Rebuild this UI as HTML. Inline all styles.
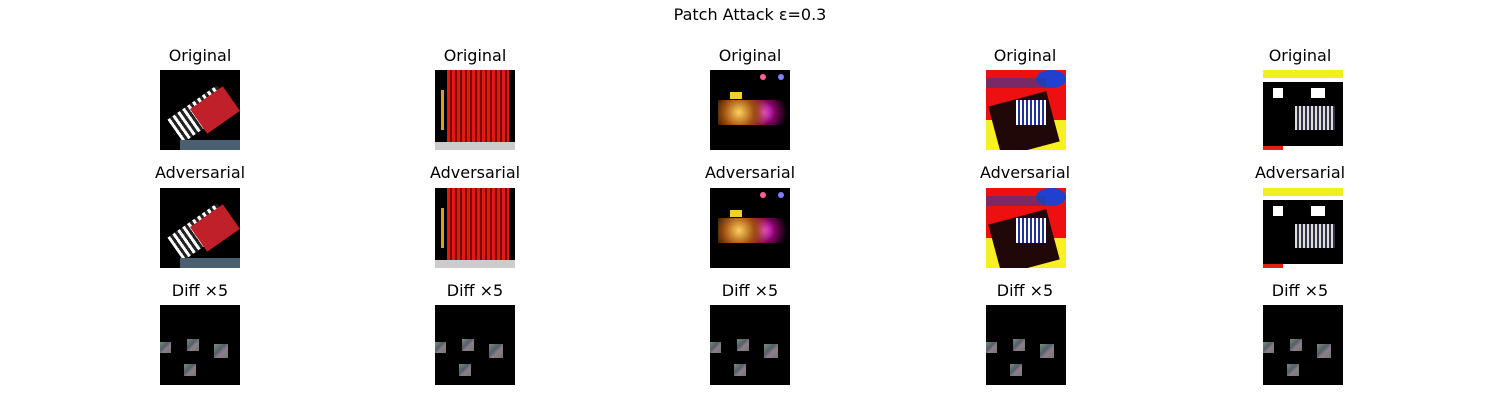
<!DOCTYPE html>
<html><head><meta charset="utf-8"><style>
body{margin:0;width:1500px;height:400px;background:#fff;position:relative;overflow:hidden;font-family:"DejaVu Sans","Liberation Sans",sans-serif;}
.t{position:absolute;font-size:16px;color:#000;text-align:center;width:200px;line-height:20px;}
.im{position:absolute;width:80px;height:80px;overflow:hidden;background:#000;}
.p{position:absolute;background:linear-gradient(135deg,#8a9a88,#5a6b74 40%,#a08a9a 60%,#7a8a7a);opacity:.9}
</style></head><body>
<div class="t" style="left:650px;top:5px;font-size:16px;">Patch Attack ε=0.3</div>

<!-- titles -->
<div class="t" style="left:100px;top:46px">Original</div>
<div class="t" style="left:375px;top:46px">Original</div>
<div class="t" style="left:650px;top:46px">Original</div>
<div class="t" style="left:925px;top:46px">Original</div>
<div class="t" style="left:1200px;top:46px">Original</div>
<div class="t" style="left:100px;top:163px">Adversarial</div>
<div class="t" style="left:375px;top:163px">Adversarial</div>
<div class="t" style="left:650px;top:163px">Adversarial</div>
<div class="t" style="left:925px;top:163px">Adversarial</div>
<div class="t" style="left:1200px;top:163px">Adversarial</div>
<div class="t" style="left:100px;top:281px">Diff ×5</div>
<div class="t" style="left:375px;top:281px">Diff ×5</div>
<div class="t" style="left:650px;top:281px">Diff ×5</div>
<div class="t" style="left:925px;top:281px">Diff ×5</div>
<div class="t" style="left:1200px;top:281px">Diff ×5</div>

<!-- image rows 1 & 2 -->
<div id="imgs"></div>
<script>
var xs=[160,435,710,986,1263], ys=[70,188];
var html='';
var art=[
 '<div style="position:absolute;left:10px;top:30px;width:60px;height:28px;background:repeating-linear-gradient(90deg,#fff 0 3px,#222 3px 6px);transform:rotate(-35deg)"></div><div style="position:absolute;left:35px;top:25px;width:40px;height:30px;background:#c0202a;transform:rotate(-35deg)"></div><div style="position:absolute;left:20px;top:70px;width:60px;height:10px;background:#4a6070"></div>',
 '<div style="position:absolute;left:12px;top:0;width:62px;height:80px;background:repeating-linear-gradient(90deg,#e01a10 0 3px,#7a0800 3px 5px)"></div><div style="position:absolute;left:0;top:72px;width:80px;height:8px;background:#ccc"></div><div style="position:absolute;left:6px;top:20px;width:3px;height:40px;background:#d4a020"></div>',
 '<div style="position:absolute;left:8px;top:30px;width:70px;height:25px;background:radial-gradient(circle at 30% 50%,#ffd060,#a05010 30%,transparent 60%),radial-gradient(circle at 65% 50%,#ff50ff,#800060 25%,transparent 50%)"></div><div style="position:absolute;left:50px;top:4px;width:6px;height:6px;border-radius:50%;background:#ff60a0"></div><div style="position:absolute;left:68px;top:4px;width:6px;height:6px;border-radius:50%;background:#8080ff"></div><div style="position:absolute;left:20px;top:22px;width:12px;height:7px;background:#f0d020"></div>',
 '<div style="position:absolute;inset:0;background:#ee1010"></div><div style="position:absolute;left:0;top:50px;width:80px;height:30px;background:#f8f020"></div><div style="position:absolute;left:8px;top:28px;width:60px;height:52px;background:#200808;transform:rotate(-15deg)"></div><div style="position:absolute;left:30px;top:30px;width:30px;height:25px;background:repeating-linear-gradient(90deg,#fff 0 2px,#2030a0 2px 4px)"></div><div style="position:absolute;left:50px;top:0;width:30px;height:18px;border-radius:50%;background:#2040d0"></div><div style="position:absolute;left:0;top:8px;width:60px;height:10px;background:#2a3aa0;opacity:.6"></div>',
 '<div style="position:absolute;inset:0;background:#fff"></div><div style="position:absolute;left:0;top:0;width:80px;height:8px;background:#f0f020"></div><div style="position:absolute;left:0;top:12px;width:80px;height:64px;background:#000"></div><div style="position:absolute;left:10px;top:18px;width:10px;height:10px;background:#fff"></div><div style="position:absolute;left:48px;top:18px;width:14px;height:10px;background:#fff"></div><div style="position:absolute;left:32px;top:36px;width:40px;height:24px;background:repeating-linear-gradient(90deg,#ddd 0 2px,#334 2px 4px)"></div><div style="position:absolute;left:0;top:76px;width:20px;height:4px;background:#e02010"></div>'
];
for(var r=0;r<2;r++)for(var c=0;c<5;c++){html+='<div class="im" style="left:'+xs[c]+'px;top:'+ys[r]+'px">'+art[c]+'</div>';}
var pt=[[0,37,11],[27,34,12],[54,39,14],[24,59,12]];
for(var c=0;c<5;c++){var s='';pt.forEach(function(p){s+='<div class="p" style="left:'+p[0]+'px;top:'+p[1]+'px;width:'+p[2]+'px;height:'+p[2]+'px"></div>';});
html+='<div class="im" style="left:'+xs[c]+'px;top:305px">'+s+'</div>';}
document.getElementById('imgs').innerHTML=html;
</script>
</body></html>
